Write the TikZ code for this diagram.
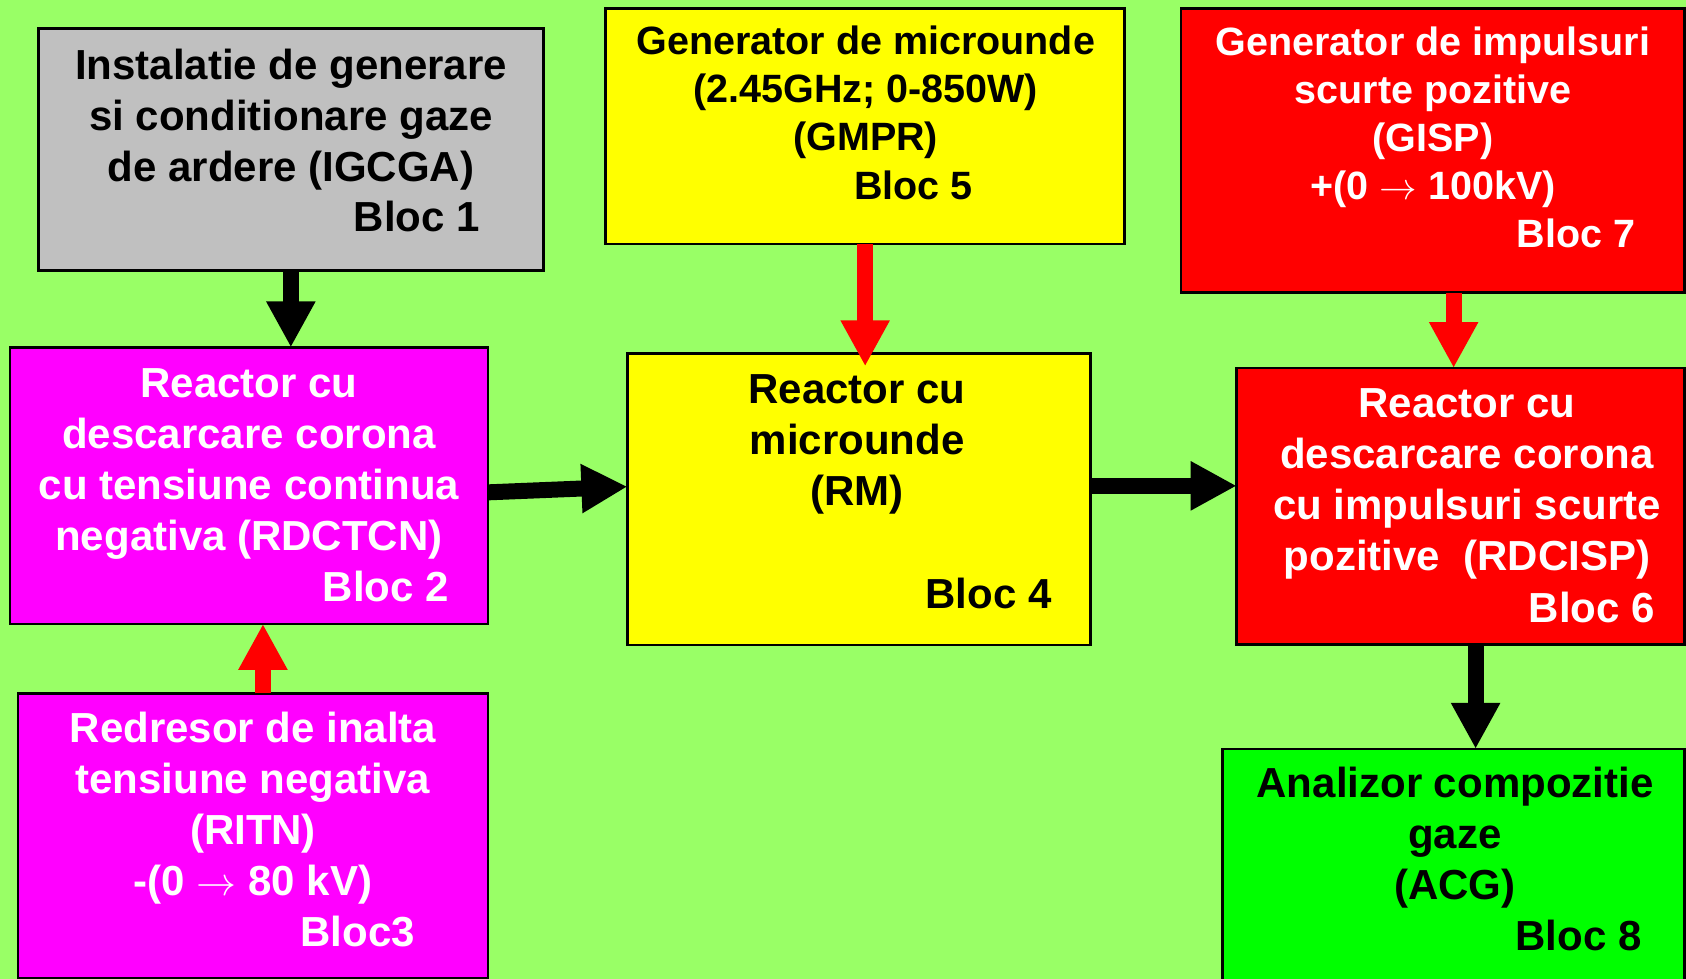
\documentclass[tikz,border=0pt]{standalone}
\usepackage{fontspec}
\setmainfont{Liberation Sans}
\usetikzlibrary{arrows.meta}
\definecolor{bgc}{HTML}{99FF66}
\definecolor{grayc}{HTML}{C0C0C0}
\definecolor{magc}{HTML}{FF00FF}
\definecolor{yelc}{HTML}{FFFF00}
\definecolor{redc}{HTML}{FF0000}
\definecolor{grnc}{HTML}{00FF00}
\newcommand\mlines[1]{\vtop{\halign{\hfil##\hfil\cr#1\crcr}}}
\newcommand\rarr{\resizebox{0.95em}{!}{$\rightarrow$}}
\tikzset{
  boxc/.style={draw=black, line width=2.5pt, inner sep=0pt, outer sep=0pt, anchor=north west},
  txt/.style={inner sep=0pt, anchor=base, font=\bfseries\fontsize{42}{51}\selectfont},
  txtn/.style={inner sep=0pt, anchor=base, font=\bfseries\fontsize{39.5}{48}\selectfont},
  bloc/.style={inner sep=0pt, anchor=base east, font=\bfseries\fontsize{42}{51}\selectfont},
  blocn/.style={inner sep=0pt, anchor=base east, font=\bfseries\fontsize{39.5}{48}\selectfont},
  blk/.style={line width=16pt, -{Triangle[length=46pt,width=46pt]}},
}
\begin{document}
\begin{tikzpicture}[x=1pt,y=-1pt]
\useasboundingbox (0,0) rectangle (1686,979);
\fill[bgc] (0,0) rectangle (1686,979);
% boxes
\node[boxc, fill=grayc, minimum width=505.1pt, minimum height=242.4pt] (b1) at (38.3,28.3) {};
\node[boxc, fill=yelc, minimum width=518.9pt, minimum height=235.7pt] (b5) at (605.7,8.3) {};
\node[boxc, fill=redc, minimum width=503.7pt, minimum height=284.4pt] (b7) at (1180.8,8.3) {};
\node[boxc, fill=magc, minimum width=478.2pt, minimum height=276.5pt] (b2) at (9.8,347.4) {};
\node[boxc, fill=yelc, minimum width=462.9pt, minimum height=291.7pt] (b4) at (627.4,353.3) {};
\node[boxc, fill=redc, minimum width=447.8pt, minimum height=276.6pt] (b6) at (1236.7,368) {};
\node[boxc, fill=magc, minimum width=470.1pt, minimum height=284.4pt] (b3) at (17.9,693.4) {};
\node[boxc, fill=grnc, minimum width=461.8pt, minimum height=240pt] (b8) at (1222.7,748.9) {};
% texts
\node[txt] (t1) at (291,79.3) {\mlines{Instalatie de generare\cr si conditionare gaze\cr de ardere (IGCGA)}};
\node[bloc] (l1) at (480,231.7) {Bloc 1};
\node[txtn] (t5) at (865.7,55) {\mlines{Generator de microunde\cr (2.45GHz; 0-850W)\cr (GMPR)}};
\node[blocn] (l5) at (973,199.3) {Bloc 5};
\node[txtn, text=white] (t7) at (1433,56) {\mlines{Generator de impulsuri\cr scurte pozitive\cr (GISP)\cr +(0 \rarr{} 100kV)}};
\node[blocn, text=white] (l7) at (1635.5,247.3) {Bloc 7};
\node[txt, text=white] (t2) at (249,397.5) {\mlines{Reactor cu\cr descarcare corona\cr cu tensiune continua\cr negativa (RDCTCN)}};
\node[bloc, text=white] (l2) at (449,601) {Bloc 2};
\node[txt] (t4) at (857,403.3) {\mlines{Reactor cu\cr microunde\cr (RM)}};
\node[bloc] (l4) at (1051.6,608.3) {Bloc 4};
\node[txt, text=white] (t6) at (1467,417.7) {\mlines{Reactor cu\cr descarcare corona\cr cu impulsuri scurte\cr pozitive\ \ (RDCISP)}};
\node[bloc, text=white] (l6) at (1655,622.2) {Bloc 6};
\node[txt, text=white] (t3) at (253,742.7) {\mlines{Redresor de inalta\cr tensiune negativa\cr (RITN)\cr -(0 \rarr{} 80 kV)}};
\node[bloc, text=white] (l3) at (415,946.7) {Bloc3};
\node[txt] (t8) at (1455,797.7) {\mlines{Analizor compozitie\cr gaze\cr (ACG)}};
\node[bloc] (l8) at (1641.7,950.9) {Bloc 8};
% arrows
\draw[blk, black] (b1.south) -- (b1.south |- b2.north);
\draw[blk, redc] (b5.south) -- ([yshift=-13pt]b5.south |- b4.north);
\draw[blk, redc] ([xshift=21pt]b7.south) -- ([xshift=21pt]b7.south |- b6.north);
\draw[blk, black] ([xshift=15pt]b6.south) -- ([xshift=15pt]b6.south |- b8.north);
\draw[blk, redc] ([xshift=10pt]b3.north) -- ([xshift=10pt]b3.north |- b2.south);
\draw[blk, black] ([yshift=-6.7pt]b2.east) -- ([yshift=12.5pt]b4.west);
\draw[blk, black] ([yshift=13.3pt]b4.east) -- ([yshift=13.3pt]b4.east -| b6.west);
\end{tikzpicture}
\end{document}
